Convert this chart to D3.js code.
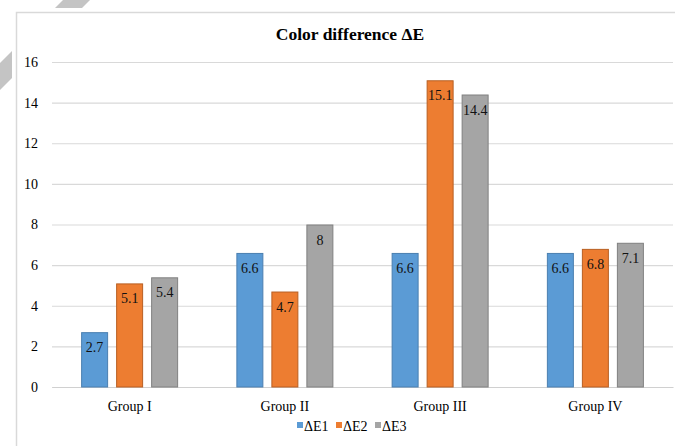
<!DOCTYPE html>
<html>
<head>
<meta charset="utf-8">
<script src="https://cdn.jsdelivr.net/npm/d3@7"></script>
<style>
  html, body { margin: 0; padding: 0; background: #fff; }
  svg { display: block; }
</style>
</head>
<body>
<svg id="chart" width="675" height="446"></svg>
<script>
const categories = ["Group I", "Group II", "Group III", "Group IV"];
const seriesNames = ["\u0394E1", "\u0394E2", "\u0394E3"];
const dE1 = [2.7, 6.6, 6.6, 6.6];
const dE2 = [5.1, 4.7, 15.1, 6.8];
const dE3 = [5.4, 8, 14.4, 7.1];
const yTicks = [0, 2, 4, 6, 8, 10, 12, 14, 16];
const colors = ["#5b9bd5", "#ed7d31", "#a5a5a5"];
const strokes = ["#4a7fb0", "#b85f22", "#808080"];
const titleText = "Color difference \u0394E";

const FONT = "'Liberation Serif', 'DejaVu Serif', 'Times New Roman', Times, serif";
const seriesValues = [dE1, dE2, dE3];
const svg = d3.select("#chart").attr("font-family", FONT);

// background diagonal band (artifact in reference)
svg.append("polygon")
  .attr("points", "63,0 90,0 0,90 0,63")
  .attr("fill", "#c4c4c4");

// chart frame
svg.append("rect").attr("x", 12).attr("y", 8).attr("width", 700).attr("height", 500).attr("fill", "#fff");
svg.append("rect").attr("x", 16.5).attr("y", 12.5).attr("width", 700).attr("height", 500)
  .attr("fill", "#fff").attr("stroke", "#d9d9d9").attr("stroke-width", 1.5);

const x0 = d3.scaleBand().domain(categories).range([52, 673]).padding(0);
const x1 = d3.scaleBand().domain(seriesNames).range([0, 97]).paddingInner(0.229).paddingOuter(0);
const y = d3.scaleLinear().domain([0, 16]).range([387, 62]);

// gridlines
const yAxis = d3.axisLeft(y).tickValues(yTicks).tickSize(-(673 - 52)).tickPadding(14).tickFormat(d3.format("d"));
const gy = svg.append("g").attr("transform", "translate(52,0)").call(yAxis).attr("font-family", FONT);
gy.select(".domain").remove();
gy.selectAll(".tick line").attr("stroke", "#d9d9d9").attr("stroke-width", 1.2);
gy.selectAll(".tick text").attr("font-size", 14).attr("fill", "#000");

// x axis
const xAxis = d3.axisBottom(x0).tickSize(0).tickPadding(14);
const gx = svg.append("g").attr("transform", "translate(0,387)").call(xAxis).attr("font-family", FONT);
gx.select(".domain").attr("stroke", "#d0d0d0").attr("stroke-width", 1.2);
gx.selectAll(".tick text").attr("font-size", 14).attr("fill", "#000");

// bars
const data = categories.map((c, i) => ({ cat: c, vals: seriesNames.map((s, j) => ({ s, j, v: seriesValues[j][i] })) }));
const groups = svg.append("g").selectAll("g").data(data).join("g")
  .attr("transform", d => `translate(${x0(d.cat) + x0.bandwidth() / 2 - 48.5},0)`);

groups.selectAll("rect").data(d => d.vals).join("rect")
  .attr("x", d => x1(d.s) + 0.5)
  .attr("y", d => y(d.v) + 0.5)
  .attr("width", x1.bandwidth() - 1)
  .attr("height", d => y(0) - y(d.v) - 0.5)
  .attr("fill", d => colors[d.j])
  .attr("stroke", d => strokes[d.j])
  .attr("stroke-width", 1);

groups.selectAll("text.lbl").data(d => d.vals).join("text")
  .attr("class", "lbl")
  .attr("x", d => x1(d.s) + x1.bandwidth() / 2)
  .attr("y", d => y(d.v) + 20)
  .attr("text-anchor", "middle")
  .attr("font-size", 14)
  .attr("fill", "#111")
  .text(d => d.v);

// title
svg.append("text").attr("x", 350).attr("y", 40).attr("text-anchor", "middle")
  .attr("font-size", 17.5).attr("font-weight", "bold").attr("fill", "#000")
  .text(titleText);

// legend
const legX = [297, 336, 375];
const leg = svg.append("g").selectAll("g").data(seriesNames).join("g")
  .attr("transform", (d, i) => `translate(${legX[i]},0)`);
leg.append("rect").attr("x", 0).attr("y", 422).attr("width", 6).attr("height", 6)
  .attr("fill", (d, i) => colors[i]);
leg.append("text").attr("x", 7).attr("y", 431).attr("font-size", 14).attr("fill", "#000").text(d => d);
</script>
</body>
</html>
